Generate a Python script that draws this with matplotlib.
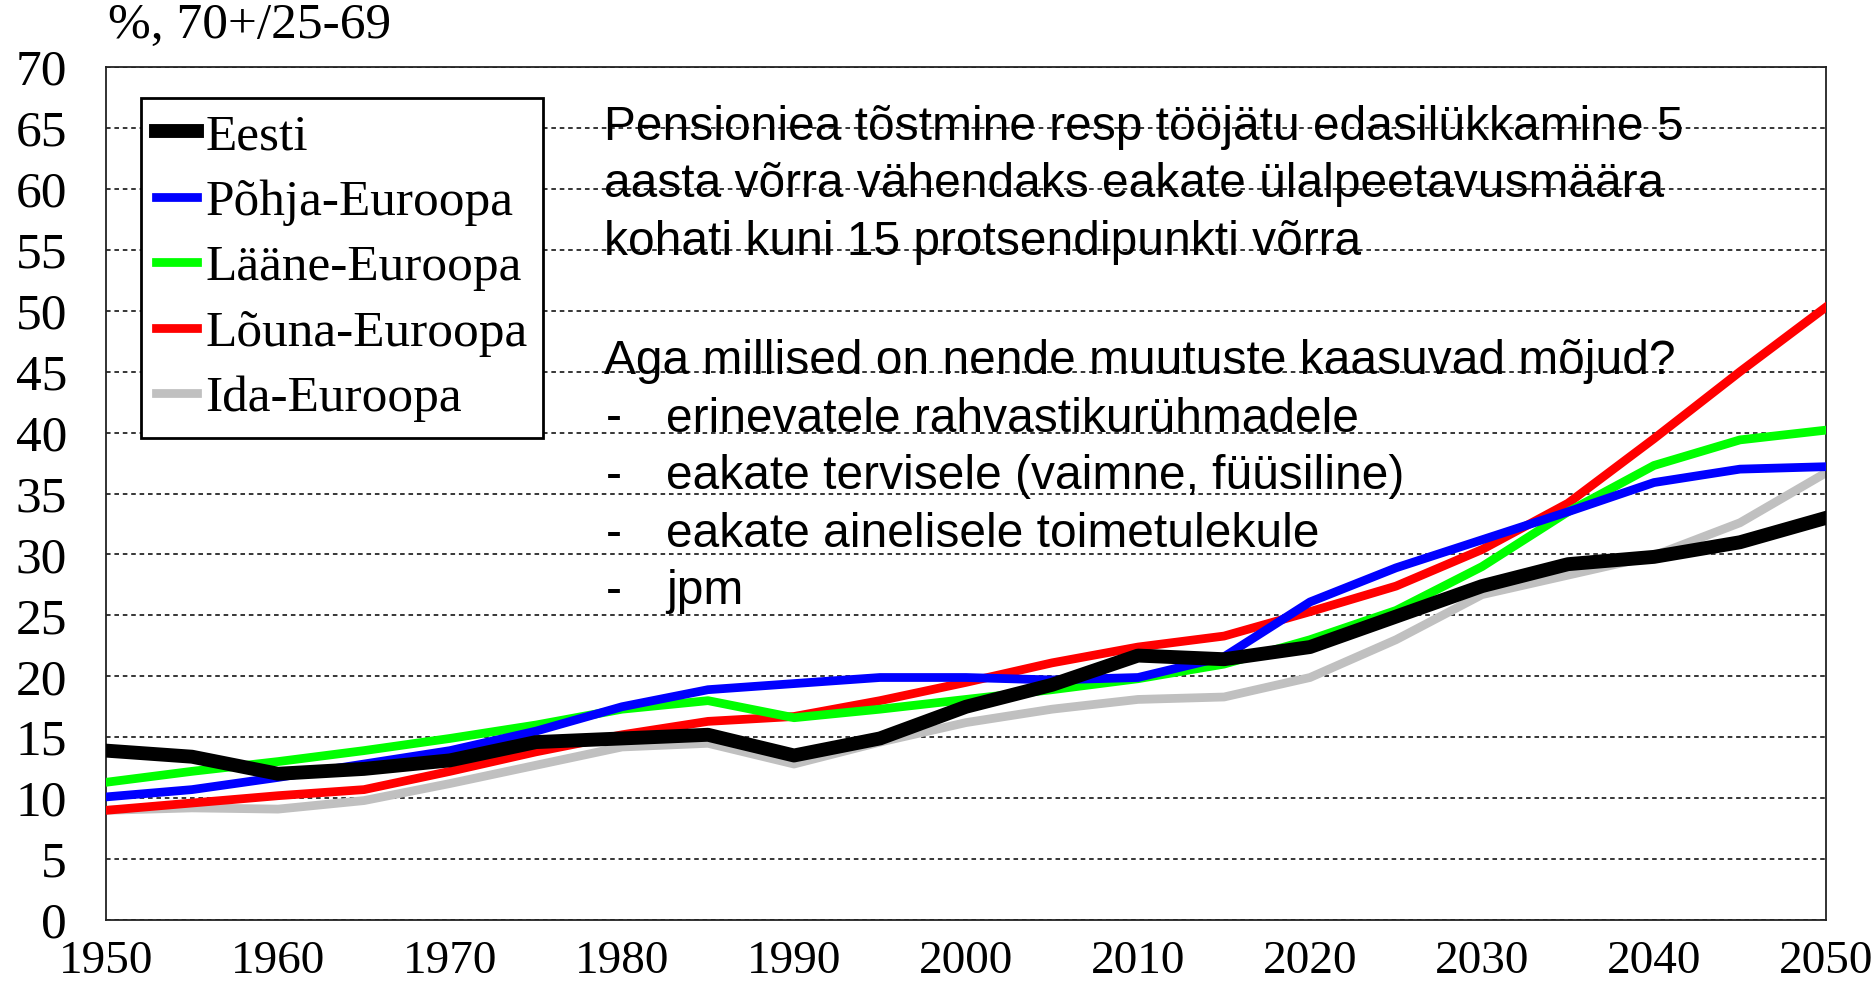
import matplotlib
matplotlib.use("Agg")
import matplotlib.pyplot as plt

years = list(range(1950, 2051, 5))
eesti = [13.9, 13.4, 12.0, 12.4, 13.1, 14.6, 14.9, 15.2, 13.5, 14.9, 17.5, 19.3, 21.7, 21.4, 22.4, 24.9, 27.4, 29.2, 29.8, 31.0, 33.0]
pohja = [10.1, 10.7, 11.7, 12.8, 13.9, 15.5, 17.5, 18.9, 19.4, 19.9, 19.9, 19.7, 19.9, 21.6, 26.1, 28.9, 31.2, 33.5, 35.9, 37.0, 37.2]
laane = [11.3, 12.2, 13.0, 13.9, 14.9, 16.0, 17.3, 18.0, 16.6, 17.3, 18.1, 18.9, 19.8, 21.0, 23.0, 25.4, 29.0, 33.5, 37.3, 39.4, 40.2]
louna = [9.0, 9.6, 10.2, 10.7, 12.2, 13.8, 15.2, 16.3, 16.7, 18.0, 19.5, 21.1, 22.4, 23.3, 25.3, 27.4, 30.4, 34.2, 39.5, 45.0, 50.3]
ida = [9.0, 9.2, 9.1, 9.8, 11.2, 12.7, 14.2, 14.5, 12.8, 14.6, 16.2, 17.3, 18.1, 18.3, 19.9, 23.0, 26.7, 28.3, 29.9, 32.6, 36.7]

series_names = ["Eesti", "Põhja-Euroopa", "Lääne-Euroopa", "Lõuna-Euroopa", "Ida-Euroopa"]
yticks = list(range(0, 71, 5))
xticks = list(range(1950, 2051, 10))

title_text = "%, 70+/25-69"
para1 = ["Pensioniea tõstmine resp tööjätu edasilükkamine 5",
         "aasta võrra vähendaks eakate ülalpeetavusmäära",
         "kohati kuni 15 protsendipunkti võrra"]
para2_head = "Aga millised on nende muutuste kaasuvad mõjud?"
bullets = ["erinevatele rahvastikurühmadele",
           "eakate tervisele (vaimne, füüsiline)",
           "eakate ainelisele toimetulekule",
           "jpm"]

W, H = 1876, 988
fig = plt.figure(figsize=(W / 100, H / 100), dpi=100)
ax = fig.add_axes([106 / W, 1 - 920 / H, 1720 / W, 853 / H])

serif = ["Liberation Serif", "DejaVu Serif"]
sans = ["Liberation Sans", "DejaVu Sans"]

lw_c = 6.3
l_ida, = ax.plot(years, ida, color="#c0c0c0", lw=lw_c, zorder=2)
l_louna, = ax.plot(years, louna, color="#ff0000", lw=lw_c, zorder=3)
l_laane, = ax.plot(years, laane, color="#00ff00", lw=lw_c, zorder=4)
l_pohja, = ax.plot(years, pohja, color="#0000ff", lw=lw_c, zorder=5)
l_eesti, = ax.plot(years, eesti, color="#000000", lw=10, zorder=6)

ax.set_xlim(1950, 2050)
ax.set_ylim(0, 70)
ax.set_yticks(yticks)
ax.set_xticks(xticks)
ax.set_yticklabels([str(v) for v in yticks], fontfamily=serif, fontsize=37)
ax.set_xticklabels([str(v) for v in xticks], fontfamily=serif, fontsize=34)
ax.tick_params(axis="both", length=0)
ax.tick_params(axis="y", pad=28)
ax.tick_params(axis="x", pad=15)
ax.yaxis.grid(True, color="black", linestyle=(0, (3, 2.5)), lw=1.1, zorder=1)
ax.set_axisbelow(True)
for s in ax.spines.values():
    s.set_color("#222222")
    s.set_linewidth(1.3)

leg = ax.legend([l_eesti, l_pohja, l_laane, l_louna, l_ida], series_names,
                loc="upper left", bbox_to_anchor=(0.0203, 0.9637), borderaxespad=0,
                prop={"family": serif, "size": 37}, frameon=True, fancybox=False,
                edgecolor="black", framealpha=1, handlelength=0.8, handletextpad=0.15,
                labelspacing=0.36, borderpad=0.3)
leg.get_frame().set_linewidth(2)
leg.set_zorder(10)

fig.text(108 / W, 1 - 26 / H, title_text, fontfamily=serif, fontsize=37, ha="left", va="center")

fs = 34.5
for i, t in enumerate(para1):
    fig.text(604 / W, 1 - (127 + 57.5 * i) / H, t, fontfamily=sans, fontsize=fs, ha="left", va="center")
fig.text(604 / W, 1 - 361 / H, para2_head, fontfamily=sans, fontsize=fs, ha="left", va="center")
for i, t in enumerate(bullets):
    y = 1 - (419 + 57.5 * i) / H
    fig.text(606 / W, y, "-", fontfamily=sans, fontsize=fs, ha="left", va="center")
    fig.text(666 / W, y, t, fontfamily=sans, fontsize=fs, ha="left", va="center")

fig.savefig("out.png", dpi=100)
